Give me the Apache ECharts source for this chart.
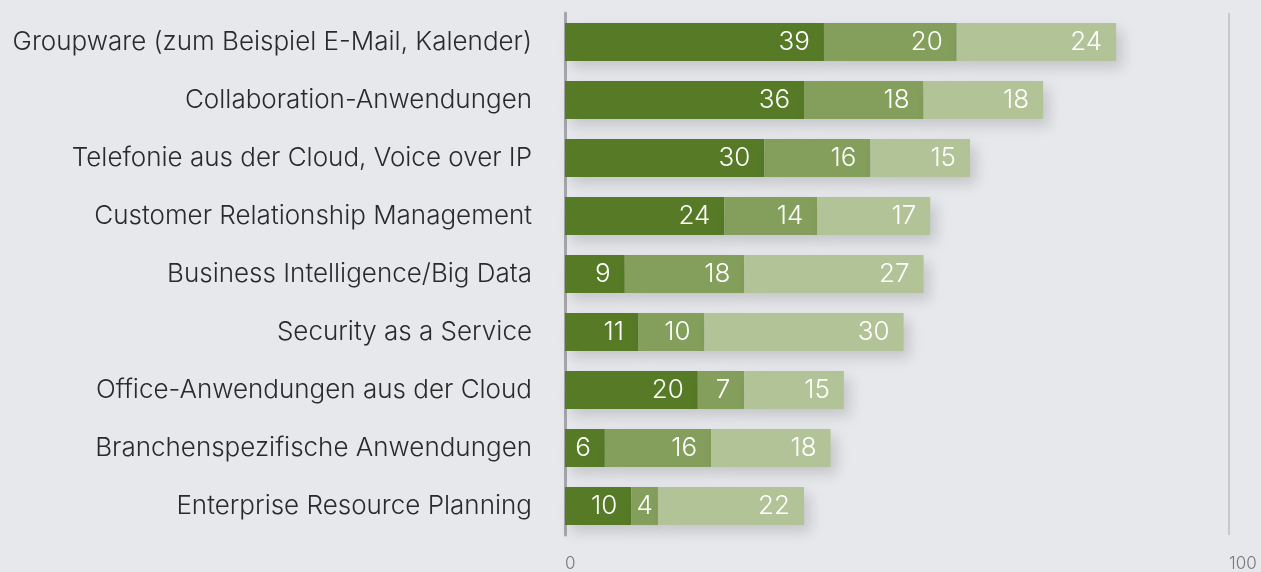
<!DOCTYPE html>
<html>
<head>
<meta charset="utf-8">
<script src="https://cdn.jsdelivr.net/npm/echarts@6/dist/echarts.min.js"></script>
<style>
  html, body { margin: 0; padding: 0; background: #e7e8ec; }
  #chart { width: 1261px; height: 572px; }
</style>
</head>
<body>
<div id="chart"></div>
<script>
const categories = [
  'Groupware (zum Beispiel E-Mail, Kalender)',
  'Collaboration-Anwendungen',
  'Telefonie aus der Cloud, Voice over IP',
  'Customer Relationship Management',
  'Business Intelligence/Big Data',
  'Security as a Service',
  'Office-Anwendungen aus der Cloud',
  'Branchenspezifische Anwendungen',
  'Enterprise Resource Planning'
]
const seriesA = [39, 36, 30, 24, 9, 11, 20, 6, 10]
const seriesB = [20, 18, 16, 14, 18, 10, 7, 16, 4]
const seriesC = [24, 18, 15, 17, 27, 30, 15, 18, 22]
const xTicks = [0, 100]

const colors = ['#567a26', '#849e5c', '#b2c398']
const fontFamily = 'Inter, "Liberation Sans", sans-serif'

const chart = echarts.init(document.getElementById('chart'))

// bar segment: small values get a tighter label padding
const makeData = arr => arr.map(v => ({
  value: v,
  label: { distance: v < 5 ? 5 : 14 }
}))

const makeSeries = (name, arr, color) => ({
  name,
  type: 'bar',
  stack: 'total',
  barWidth: 38,
  data: makeData(arr),
  itemStyle: {
    color,
    shadowBlur: 14,
    shadowOffsetX: 6,
    shadowOffsetY: 7,
    shadowColor: 'rgba(0, 0, 0, 0.15)'
  },
  label: {
    show: true,
    position: 'insideRight',
    color: '#ffffff',
    fontSize: 26,
    fontWeight: 300,
    fontFamily
  }
})

chart.setOption({
  backgroundColor: '#e7e8ec',
  animation: false,
  grid: { left: 565, right: 32, top: 13, bottom: 37, containLabel: false },
  xAxis: {
    type: 'value',
    min: xTicks[0],
    max: xTicks[1],
    interval: 100,
    axisLine: { show: false },
    axisTick: { show: false },
    splitLine: { show: true, lineStyle: { color: '#c8c9ce', width: 2 } },
    axisLabel: {
      align: 'left',
      color: '#7a7a7a',
      fontSize: 17,
      fontWeight: 300,
      fontFamily,
      margin: 20
    }
  },
  yAxis: {
    type: 'category',
    inverse: true,
    data: categories,
    axisLine: { show: true, lineStyle: { color: '#a5a6ac', width: 3 } },
    axisTick: { show: false },
    axisLabel: {
      color: '#2a2a2a',
      fontSize: 26,
      fontWeight: 300,
      fontFamily,
      margin: 33
    }
  },
  series: [
    makeSeries('A', seriesA, colors[0]),
    makeSeries('B', seriesB, colors[1]),
    makeSeries('C', seriesC, colors[2])
  ]
})

window.addEventListener('resize', () => chart.resize())
</script>
</body>
</html>
